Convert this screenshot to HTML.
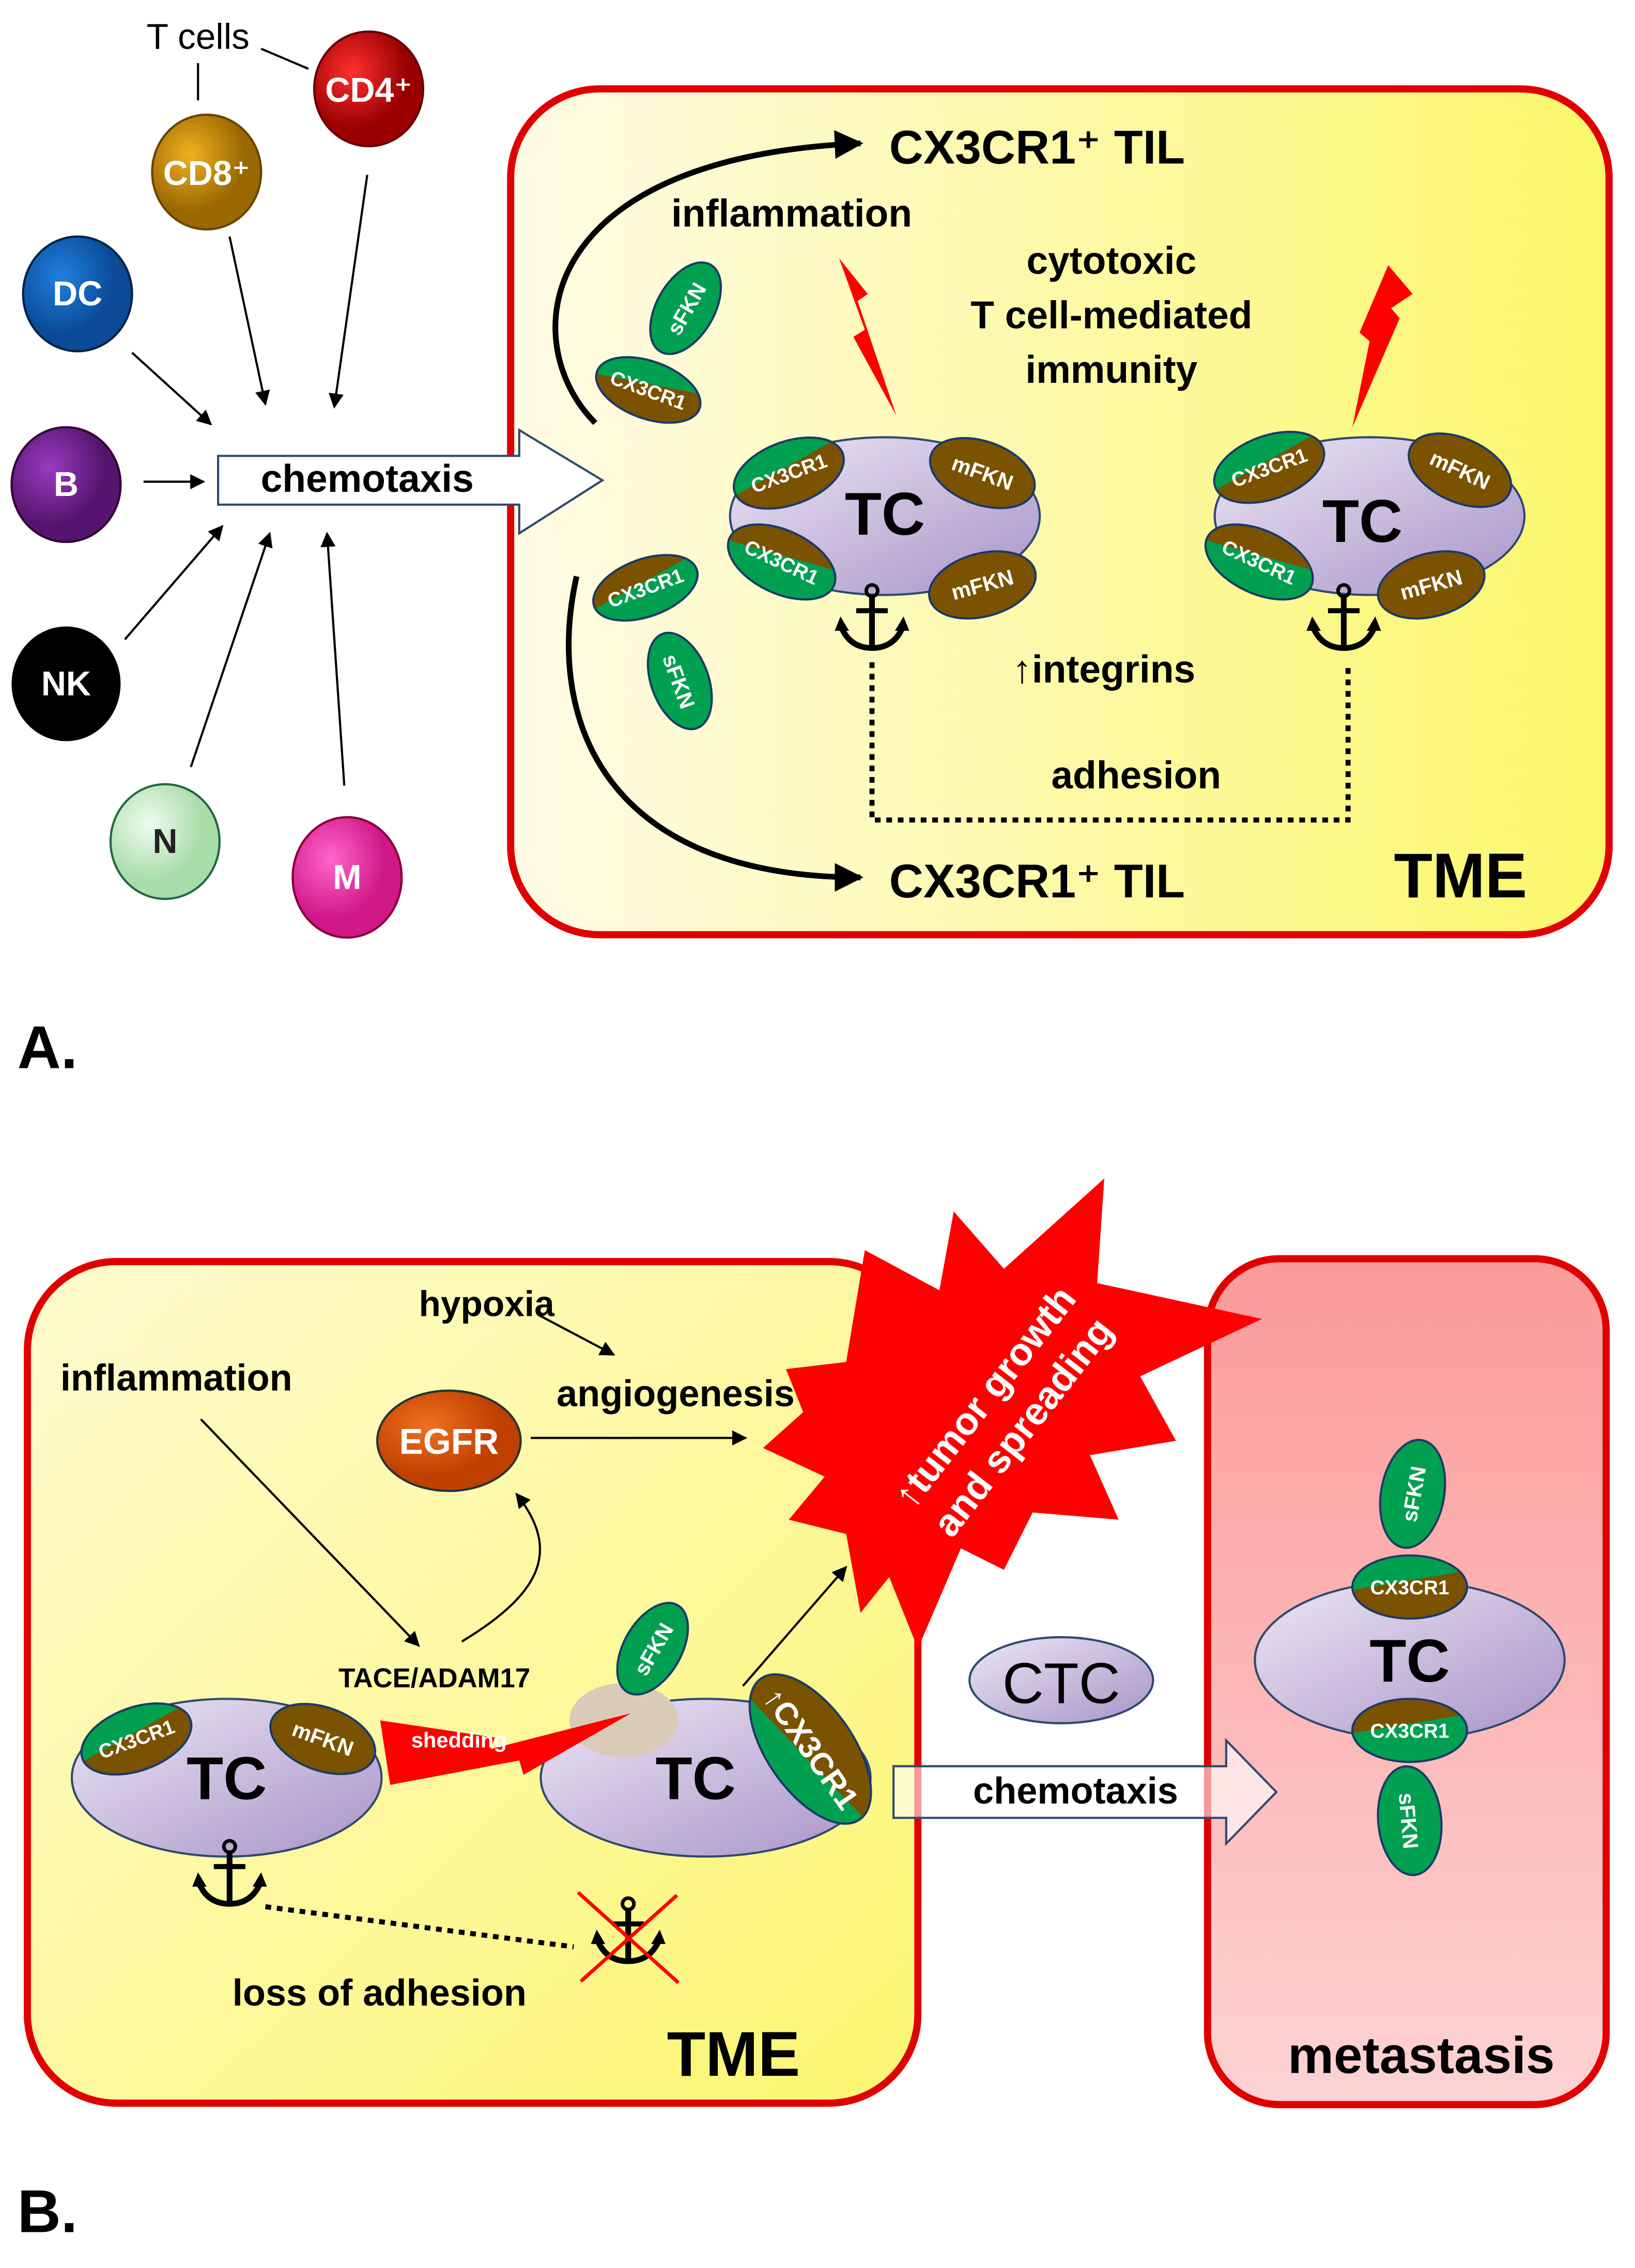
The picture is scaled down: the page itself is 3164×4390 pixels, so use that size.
<!DOCTYPE html>
<html><head><meta charset="utf-8"><style>
html,body{margin:0;padding:0;background:#fff}
svg{display:block}
text{font-family:"Liberation Sans","DejaVu Sans",sans-serif;font-weight:bold}
</style></head><body>
<svg width="3164" height="4390" viewBox="0 0 1140 1582" xmlns="http://www.w3.org/2000/svg">
<defs>
<linearGradient id="tmeA" x1="0" y1="0" x2="1" y2="0"><stop offset="0" stop-color="#fffbe6"/><stop offset="1" stop-color="#fbf76a"/></linearGradient>
<linearGradient id="tmeB" x1="0" y1="0" x2="1" y2="1"><stop offset="0" stop-color="#fffbd0"/><stop offset="1" stop-color="#fbf570"/></linearGradient>
<linearGradient id="met" x1="0" y1="0" x2="0" y2="1"><stop offset="0" stop-color="#fb9a9a"/><stop offset="1" stop-color="#fdd3d3"/></linearGradient>
<linearGradient id="tc" x1="0" y1="0" x2="1" y2="1"><stop offset="0" stop-color="#ece6f4"/><stop offset="1" stop-color="#a893c8"/></linearGradient>
<linearGradient id="gb" x1="0" y1="0" x2="0.3" y2="1"><stop offset="0.5" stop-color="#00a050"/><stop offset="0.5" stop-color="#7a5200"/></linearGradient>
<linearGradient id="bg" x1="0" y1="0" x2="0.3" y2="1"><stop offset="0.5" stop-color="#7a5200"/><stop offset="0.5" stop-color="#00a050"/></linearGradient>
<radialGradient id="cRed" cx="0.35" cy="0.35"><stop offset="0" stop-color="#ff3030"/><stop offset="1" stop-color="#9a0000"/></radialGradient>
<radialGradient id="cOr" cx="0.35" cy="0.35"><stop offset="0" stop-color="#f0b020"/><stop offset="1" stop-color="#9a6800"/></radialGradient>
<radialGradient id="cBl" cx="0.35" cy="0.35"><stop offset="0" stop-color="#2080e0"/><stop offset="1" stop-color="#0a4a96"/></radialGradient>
<radialGradient id="cPu" cx="0.35" cy="0.35"><stop offset="0" stop-color="#9a3ac0"/><stop offset="1" stop-color="#55156e"/></radialGradient>
<radialGradient id="cGr" cx="0.35" cy="0.35"><stop offset="0" stop-color="#f0fbf0"/><stop offset="1" stop-color="#a8dca8"/></radialGradient>
<radialGradient id="cPk" cx="0.35" cy="0.35"><stop offset="0" stop-color="#ff66cc"/><stop offset="1" stop-color="#d01888"/></radialGradient>
<radialGradient id="cEg" cx="0.35" cy="0.35"><stop offset="0" stop-color="#f07020"/><stop offset="1" stop-color="#c04000"/></radialGradient>
<marker id="ar" viewBox="0 0 10 10" refX="9" refY="5" markerWidth="7" markerHeight="7" orient="auto"><path d="M0,0 L10,5 L0,10 z" fill="#000"/></marker>
<marker id="arB" viewBox="0 0 10 10" refX="9" refY="5" markerWidth="5" markerHeight="5" orient="auto"><path d="M0,0 L10,5 L0,10 z" fill="#000"/></marker>
<g id="anchor"><circle cx="0" cy="-24" r="4" fill="none" stroke="#000" stroke-width="2.5"/><line x1="0" y1="-20" x2="0" y2="14" stroke="#000" stroke-width="4"/><line x1="-11" y1="-10" x2="11" y2="-10" stroke="#000" stroke-width="3.5"/><path d="M-22,0 Q-16,16 0,16 Q16,16 22,0" fill="none" stroke="#000" stroke-width="4"/><path d="M-26,4 L-22,-6 L-16,4 z M26,4 L22,-6 L16,4z" fill="#000"/></g>
</defs>

<!-- PANEL A -->
<rect x="356" y="62" width="766" height="590" rx="62" fill="url(#tmeA)" stroke="#e00000" stroke-width="5"/>
<text x="138" y="34" font-size="25" text-anchor="middle" style="font-weight:normal">T cells</text>
<line x1="138" y1="44" x2="138" y2="70" stroke="#000" stroke-width="1.5"/>
<line x1="182" y1="34" x2="215" y2="48" stroke="#000" stroke-width="1.5"/>
<ellipse cx="257" cy="62" rx="38" ry="40" fill="url(#cRed)" stroke="#600" stroke-width="1.5"/><text x="257" y="71" font-size="24" fill="#fff" text-anchor="middle">CD4⁺</text>
<ellipse cx="144" cy="120" rx="38" ry="40" fill="url(#cOr)" stroke="#640" stroke-width="1.5"/><text x="144" y="129" font-size="24" fill="#fff" text-anchor="middle">CD8⁺</text>
<ellipse cx="54" cy="205" rx="38" ry="40" fill="url(#cBl)" stroke="#024" stroke-width="1.5"/><text x="54" y="213" font-size="24" fill="#fff" text-anchor="middle">DC</text>
<ellipse cx="46" cy="338" rx="38" ry="40" fill="url(#cPu)" stroke="#303" stroke-width="1.5"/><text x="46" y="346" font-size="24" fill="#fff" text-anchor="middle">B</text>
<ellipse cx="46" cy="477" rx="38" ry="40" fill="#000"/><text x="46" y="485" font-size="24" fill="#fff" text-anchor="middle">NK</text>
<ellipse cx="115" cy="587" rx="38" ry="40" fill="url(#cGr)" stroke="#264" stroke-width="1.5"/><text x="115" y="595" font-size="24" fill="#222" text-anchor="middle">N</text>
<ellipse cx="242" cy="612" rx="38" ry="42" fill="url(#cPk)" stroke="#803" stroke-width="1.5"/><text x="242" y="620" font-size="24" fill="#fff" text-anchor="middle">M</text>
<g stroke="#000" stroke-width="1.5" marker-end="url(#ar)">
<line x1="160" y1="165" x2="185" y2="282"/>
<line x1="256" y1="122" x2="233" y2="284"/>
<line x1="92" y1="246" x2="147" y2="296"/>
<line x1="100" y1="336" x2="142" y2="336"/>
<line x1="87" y1="446" x2="155" y2="367"/>
<line x1="133" y1="535" x2="188" y2="372"/>
<line x1="240" y1="548" x2="228" y2="372"/>
</g>
<path d="M152,318 L362,318 L362,300 L420,335 L362,372 L362,352 L152,352 Z" fill="#fff" stroke="#2f4a6e" stroke-width="1.5"/>
<text x="256" y="343" font-size="27" text-anchor="middle">chemotaxis</text>
<path d="M415,295 C360,240 370,110 600,100" fill="none" stroke="#000" stroke-width="4" marker-end="url(#arB)"/>
<path d="M402,402 C380,500 420,612 600,612" fill="none" stroke="#000" stroke-width="4" marker-end="url(#arB)"/>
<text x="620" y="114" font-size="33">CX3CR1⁺ TIL</text>
<text x="620" y="626" font-size="33">CX3CR1⁺ TIL</text>
<text x="468" y="158" font-size="27">inflammation</text>
<text x="775" y="191" font-size="27" text-anchor="middle">cytotoxic</text>
<text x="775" y="229" font-size="27" text-anchor="middle">T cell-mediated</text>
<text x="775" y="267" font-size="27" text-anchor="middle">immunity</text>
<g transform="translate(478,215) rotate(-60)"><ellipse rx="35" ry="20" fill="#00a050" stroke="#1a3a6a" stroke-width="1.5"/><text y="6" font-size="15" fill="#fff" text-anchor="middle">sFKN</text></g>
<g transform="translate(452,272) rotate(20)"><ellipse rx="38" ry="20" fill="url(#gb)" stroke="#1a3a6a" stroke-width="1.5"/><text y="5" font-size="14" fill="#fff" text-anchor="middle">CX3CR1</text></g>
<g transform="translate(450,410) rotate(-20)"><ellipse rx="38" ry="20" fill="url(#bg)" stroke="#1a3a6a" stroke-width="1.5"/><text y="5" font-size="14" fill="#fff" text-anchor="middle">CX3CR1</text></g>
<g transform="translate(474,475) rotate(70)"><ellipse rx="35" ry="20" fill="#00a050" stroke="#1a3a6a" stroke-width="1.5"/><text y="6" font-size="15" fill="#fff" text-anchor="middle">sFKN</text></g>
<!-- lightning -->
<path d="M585,180 L605,205 L598,210 L625,290 L595,235 L603,230 Z" fill="#f00"/>
<path d="M968,185 L985,205 L970,215 L976,222 L943,298 L955,238 L948,232 Z" fill="#f00"/>
<!-- TC cells A -->
<g>
<ellipse cx="617" cy="360" rx="108" ry="55" fill="url(#tc)" stroke="#2f4a6e" stroke-width="1.5"/>
<text x="617" y="373" font-size="42" text-anchor="middle">TC</text>
<g transform="translate(550,330) rotate(-20)"><ellipse rx="40" ry="22" fill="url(#gb)" stroke="#1a3a6a" stroke-width="1.5"/><text y="5" font-size="14" fill="#fff" text-anchor="middle">CX3CR1</text></g>
<g transform="translate(685,330) rotate(20)"><ellipse rx="38" ry="22" fill="#7a5200" stroke="#1a3a6a" stroke-width="1.5"/><text y="5" font-size="15" fill="#fff" text-anchor="middle">mFKN</text></g>
<g transform="translate(545,392) rotate(25)"><ellipse rx="40" ry="22" fill="url(#bg)" stroke="#1a3a6a" stroke-width="1.5"/><text y="5" font-size="14" fill="#fff" text-anchor="middle">CX3CR1</text></g>
<g transform="translate(685,408) rotate(-15)"><ellipse rx="38" ry="22" fill="#7a5200" stroke="#1a3a6a" stroke-width="1.5"/><text y="5" font-size="15" fill="#fff" text-anchor="middle">mFKN</text></g>
<use href="#anchor" x="608" y="436"/>
</g>
<g>
<ellipse cx="955" cy="360" rx="108" ry="55" fill="url(#tc)" stroke="#2f4a6e" stroke-width="1.5"/>
<text x="950" y="378" font-size="42" text-anchor="middle">TC</text>
<g transform="translate(885,326) rotate(-20)"><ellipse rx="40" ry="22" fill="url(#gb)" stroke="#1a3a6a" stroke-width="1.5"/><text y="5" font-size="14" fill="#fff" text-anchor="middle">CX3CR1</text></g>
<g transform="translate(1018,328) rotate(25)"><ellipse rx="38" ry="22" fill="#7a5200" stroke="#1a3a6a" stroke-width="1.5"/><text y="5" font-size="15" fill="#fff" text-anchor="middle">mFKN</text></g>
<g transform="translate(878,392) rotate(25)"><ellipse rx="40" ry="22" fill="url(#bg)" stroke="#1a3a6a" stroke-width="1.5"/><text y="5" font-size="14" fill="#fff" text-anchor="middle">CX3CR1</text></g>
<g transform="translate(998,408) rotate(-15)"><ellipse rx="38" ry="22" fill="#7a5200" stroke="#1a3a6a" stroke-width="1.5"/><text y="5" font-size="15" fill="#fff" text-anchor="middle">mFKN</text></g>
<use href="#anchor" x="937" y="436"/>
</g>
<path d="M608,462 L608,572 L940,572 L940,462" fill="none" stroke="#000" stroke-width="3.5" stroke-dasharray="4,4"/>
<text x="706" y="476" font-size="27">↑integrins</text>
<text x="733" y="550" font-size="27">adhesion</text>
<text x="972" y="626" font-size="44">TME</text>
<text x="12" y="745" font-size="42">A.</text>

<!-- PANEL B -->
<rect x="19" y="880" width="621" height="587" rx="62" fill="url(#tmeB)" stroke="#e00000" stroke-width="5"/>
<rect x="842" y="878" width="278" height="590" rx="50" fill="url(#met)" stroke="#e00000" stroke-width="5"/>
<path d="M603,872 L655,900 L665,845 L700,885 L770,822 L765,895 L880,920 L795,960 L820,1005 L760,1015 L780,1060 L720,1055 L700,1095 L670,1080 L640,1150 L620,1100 L600,1125 L590,1070 L550,1060 L575,1030 L532,1010 L560,985 L548,955 L590,950 Z" fill="#f00"/>
<text transform="translate(700,985) rotate(-52)" font-size="27" fill="#fff" text-anchor="middle"><tspan x="0" y="-8">↑tumor growth</tspan><tspan x="0" y="26">and spreading</tspan></text>
<text x="292" y="918" font-size="25">hypoxia</text>
<text x="42" y="970" font-size="26">inflammation</text>
<text x="388" y="981" font-size="26">angiogenesis</text>
<line x1="375" y1="917" x2="428" y2="945" stroke="#000" stroke-width="1.5" marker-end="url(#ar)"/>
<ellipse cx="313" cy="1005" rx="50" ry="35" fill="url(#cEg)" stroke="#233" stroke-width="1.5"/>
<text x="313" y="1014" font-size="25" fill="#fff" text-anchor="middle">EGFR</text>
<line x1="370" y1="1003" x2="520" y2="1003" stroke="#000" stroke-width="1.5" marker-end="url(#ar)"/>
<line x1="140" y1="990" x2="292" y2="1148" stroke="#000" stroke-width="1.5" marker-end="url(#ar)"/>
<path d="M322,1145 C380,1110 390,1080 360,1042" fill="none" stroke="#000" stroke-width="1.5" marker-end="url(#ar)"/>
<line x1="518" y1="1176" x2="590" y2="1093" stroke="#000" stroke-width="1.5" marker-end="url(#ar)"/>
<text x="236" y="1177" font-size="19">TACE/ADAM17</text>
<ellipse cx="158" cy="1240" rx="108" ry="55" fill="url(#tc)" stroke="#2f4a6e" stroke-width="1.5"/>
<text x="158" y="1255" font-size="42" text-anchor="middle">TC</text>
<g transform="translate(95,1213) rotate(-20)"><ellipse rx="40" ry="22" fill="url(#gb)" stroke="#1a3a6a" stroke-width="1.5"/><text y="5" font-size="14" fill="#fff" text-anchor="middle">CX3CR1</text></g>
<g transform="translate(225,1213) rotate(20)"><ellipse rx="38" ry="22" fill="#7a5200" stroke="#1a3a6a" stroke-width="1.5"/><text y="5" font-size="15" fill="#fff" text-anchor="middle">mFKN</text></g>
<use href="#anchor" x="160" y="1312"/>
<ellipse cx="492" cy="1240" rx="115" ry="55" fill="url(#tc)" stroke="#2f4a6e" stroke-width="1.5"/>
<ellipse cx="435" cy="1200" rx="38" ry="26" fill="#d9cbb8"/>
<text x="485" y="1255" font-size="42" text-anchor="middle">TC</text>
<g transform="translate(455,1150) rotate(-60)"><ellipse rx="35" ry="20" fill="#00a050" stroke="#1a3a6a" stroke-width="1.5"/><text y="6" font-size="15" fill="#fff" text-anchor="middle">sFKN</text></g>
<g transform="translate(565,1220) rotate(55)"><ellipse rx="60" ry="30" fill="url(#gb)" stroke="#1a3a6a" stroke-width="1.5" transform="rotate(180)"/><text y="7" font-size="22" fill="#fff" text-anchor="middle">↑CX3CR1</text></g>
<path d="M265,1200 L345,1212 L342,1220 L440,1195 L365,1238 L362,1228 L272,1245 Z" fill="#f00"/>
<text x="320" y="1219" font-size="15" fill="#fff" text-anchor="middle">shedding</text>
<path d="M185,1330 L400,1358" fill="none" stroke="#000" stroke-width="3.5" stroke-dasharray="4,4"/>
<use href="#anchor" x="438" y="1352"/>
<line x1="403" y1="1320" x2="473" y2="1383" stroke="#f00" stroke-width="2.5"/>
<line x1="472" y1="1322" x2="405" y2="1382" stroke="#f00" stroke-width="2.5"/>
<text x="162" y="1399" font-size="26">loss of adhesion</text>
<text x="465" y="1448" font-size="44">TME</text>
<ellipse cx="740" cy="1172" rx="64" ry="30" fill="url(#tc)" stroke="#2f4a6e" stroke-width="1.5"/>
<text x="740" y="1188" font-size="40" text-anchor="middle" style="font-weight:normal">CTC</text>
<path d="M623,1232 L855,1232 L855,1214 L890,1250 L855,1286 L855,1268 L623,1268 Z" fill="#fff" fill-opacity="0.6" stroke="#2f4a6e" stroke-width="1.5"/>
<text x="750" y="1258" font-size="26" text-anchor="middle">chemotaxis</text>
<ellipse cx="983" cy="1158" rx="108" ry="55" fill="url(#tc)" stroke="#2f4a6e" stroke-width="1.5"/>
<text x="983" y="1173" font-size="42" text-anchor="middle">TC</text>
<g transform="translate(985,1042) rotate(-80)"><ellipse rx="38" ry="22" fill="#00a050" stroke="#1a3a6a" stroke-width="1.5"/><text y="6" font-size="15" fill="#fff" text-anchor="middle">sFKN</text></g>
<g transform="translate(983,1270) rotate(85)"><ellipse rx="38" ry="22" fill="#00a050" stroke="#1a3a6a" stroke-width="1.5"/><text y="6" font-size="15" fill="#fff" text-anchor="middle">sFKN</text></g>
<ellipse cx="983" cy="1107" rx="40" ry="22" fill="url(#gb)" stroke="#1a3a6a" stroke-width="1.5"/><text x="983" y="1112" font-size="14" fill="#fff" text-anchor="middle">CX3CR1</text>
<ellipse cx="983" cy="1207" rx="40" ry="22" fill="url(#bg)" stroke="#1a3a6a" stroke-width="1.5"/><text x="983" y="1212" font-size="14" fill="#fff" text-anchor="middle">CX3CR1</text>
<text x="898" y="1446" font-size="36">metastasis</text>
<text x="12" y="1557" font-size="42">B.</text>
</svg>
</body></html>
